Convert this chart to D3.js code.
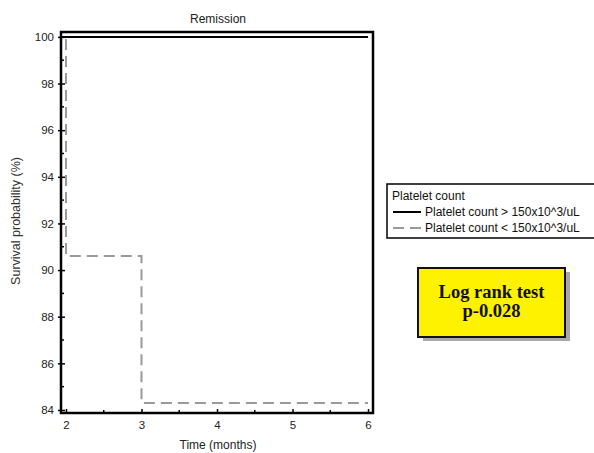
<!DOCTYPE html>
<html>
<head>
<meta charset="utf-8">
<script src="https://cdn.jsdelivr.net/npm/d3@7"></script>
<style>
html,body{margin:0;padding:0;background:#fff;}
svg{display:block;}
</style>
</head>
<body>
<svg id="chart" width="594" height="453"></svg>
<script>
// ---- data ----
const chartTitle = "Remission";
const xLabel = "Time (months)";
const yLabel = "Survival probability (%)";
const legendTitle = "Platelet count";
const seriesNames = ["Platelet count > 150x10^3/uL", "Platelet count < 150x10^3/uL"];
// Kaplan-Meier step points (time in months, survival %)
const timesHigh = [0, 6];
const survHigh = [100, 100];
const timesLow = [0, 2, 3, 6];
const survLow = [100, 90.6, 84.3, 84.3];
const xTicks = [2, 3, 4, 5, 6];
const yTicks = [84, 86, 88, 90, 92, 94, 96, 98, 100];
const testLines = ["Log rank test", "p-0.028"];

// ---- layout ----
const svg = d3.select("#chart");
const L = 61, R = 373, T = 32, B = 413;
const x = d3.scaleLinear().domain([1.934, 6.066]).range([L, R]);
const y = d3.scaleLinear().domain([83.87, 100.21]).range([B, T]);

svg.append("defs").append("clipPath").attr("id", "plotclip")
  .append("rect").attr("x", L).attr("y", T).attr("width", R - L).attr("height", B - T);

// title
svg.append("text").attr("x", 218).attr("y", 23).attr("text-anchor", "middle")
  .attr("font-family", "Arial, 'Liberation Sans', sans-serif").attr("font-size", 12)
  .attr("fill", "#222").text(chartTitle);

// axes
const yAxis = d3.axisLeft(y).tickValues(yTicks).tickFormat(d3.format("d")).tickSize(-4).tickPadding(7);
const gy = svg.append("g").attr("transform", `translate(${L},0)`).call(yAxis);
const xAxis = d3.axisBottom(x).tickValues(xTicks).tickFormat(d3.format("d")).tickSize(-4).tickPadding(8);
const gx = svg.append("g").attr("transform", `translate(0,${B})`).call(xAxis);
[gy, gx].forEach(g => {
  g.select(".domain").remove();
  g.selectAll("line").attr("stroke", "#000").attr("stroke-width", 1.5);
  g.selectAll("text").attr("font-family", "Arial, 'Liberation Sans', sans-serif")
    .attr("font-size", 11.5).attr("fill", "#222");
});
// outward stubs on y major ticks
gy.selectAll(".tick").append("line").attr("x1", -3).attr("x2", 0)
  .attr("stroke", "#000").attr("stroke-width", 1.5);

// minor ticks
const yMinor = d3.range(85, 100, 2);
svg.append("g").selectAll("line").data(yMinor).join("line")
  .attr("x1", L).attr("x2", L + 3).attr("y1", d => y(d)).attr("y2", d => y(d))
  .attr("stroke", "#000").attr("stroke-width", 1.5);
const xMinor = [2.5, 3.5, 4.5, 5.5];
svg.append("g").selectAll("line").data(xMinor).join("line")
  .attr("x1", d => x(d)).attr("x2", d => x(d)).attr("y1", B).attr("y2", B - 3)
  .attr("stroke", "#000").attr("stroke-width", 1.5);

// curves
const line = d3.line().curve(d3.curveStepAfter).x(d => x(d[0])).y(d => y(d[1]));
const plot = svg.append("g").attr("clip-path", "url(#plotclip)");
plot.append("path").datum(timesLow.map((t, i) => [t, survLow[i]]))
  .attr("d", line).attr("fill", "none").attr("stroke", "#9a9a9a")
  .attr("stroke-width", 2).attr("stroke-dasharray", "11,6");
plot.append("path").datum(timesHigh.map((t, i) => [t, survHigh[i]]))
  .attr("d", line).attr("fill", "none").attr("stroke", "#000").attr("stroke-width", 2);

// frame
svg.append("rect").attr("x", L).attr("y", T).attr("width", R - L).attr("height", B - T)
  .attr("fill", "none").attr("stroke", "#000").attr("stroke-width", 2.5);

// axis labels
svg.append("text").attr("x", 218).attr("y", 449).attr("text-anchor", "middle")
  .attr("font-family", "Arial, 'Liberation Sans', sans-serif").attr("font-size", 12)
  .attr("fill", "#222").text(xLabel);
svg.append("text").attr("transform", "translate(20,221) rotate(-90)").attr("text-anchor", "middle")
  .attr("font-family", "Arial, 'Liberation Sans', sans-serif").attr("font-size", 12.5)
  .attr("fill", "#333").text(yLabel);

// legend
const lg = svg.append("g");
lg.append("rect").attr("x", 387).attr("y", 184).attr("width", 220).attr("height", 54)
  .attr("fill", "#fff").attr("stroke", "#000").attr("stroke-width", 1.5);
lg.append("text").attr("x", 392).attr("y", 200)
  .attr("font-family", "Arial, 'Liberation Sans', sans-serif").attr("font-size", 12)
  .attr("fill", "#111").text(legendTitle);
const styles = [{c: "#000", d: null}, {c: "#9a9a9a", d: "11,6"}];
seriesNames.forEach((s, i) => {
  const yy = 212 + i * 16;
  lg.append("line").attr("x1", 393).attr("x2", 421).attr("y1", yy).attr("y2", yy)
    .attr("stroke", styles[i].c).attr("stroke-width", 2)
    .attr("stroke-dasharray", styles[i].d);
  lg.append("text").attr("x", 425).attr("y", yy + 4)
    .attr("font-family", "Arial, 'Liberation Sans', sans-serif").attr("font-size", 12)
    .attr("fill", "#111").text(s);
});

// log rank box
const bx = 418, by = 268, bw = 147, bh = 69;
svg.append("rect").attr("x", bx + 5).attr("y", by + 4).attr("width", bw).attr("height", bh)
  .attr("fill", "#a8a8a8");
svg.append("rect").attr("x", bx).attr("y", by).attr("width", bw).attr("height", bh)
  .attr("fill", "#fff200").attr("stroke", "#111").attr("stroke-width", 2);
testLines.forEach((t, i) => {
  svg.append("text").attr("x", bx + bw / 2).attr("y", 298 + i * 19).attr("text-anchor", "middle")
    .attr("font-family", "'Liberation Serif', 'Times New Roman', serif").attr("font-weight", "bold")
    .attr("font-size", 18.5).attr("fill", "#111").text(t);
});
</script>
</body>
</html>
